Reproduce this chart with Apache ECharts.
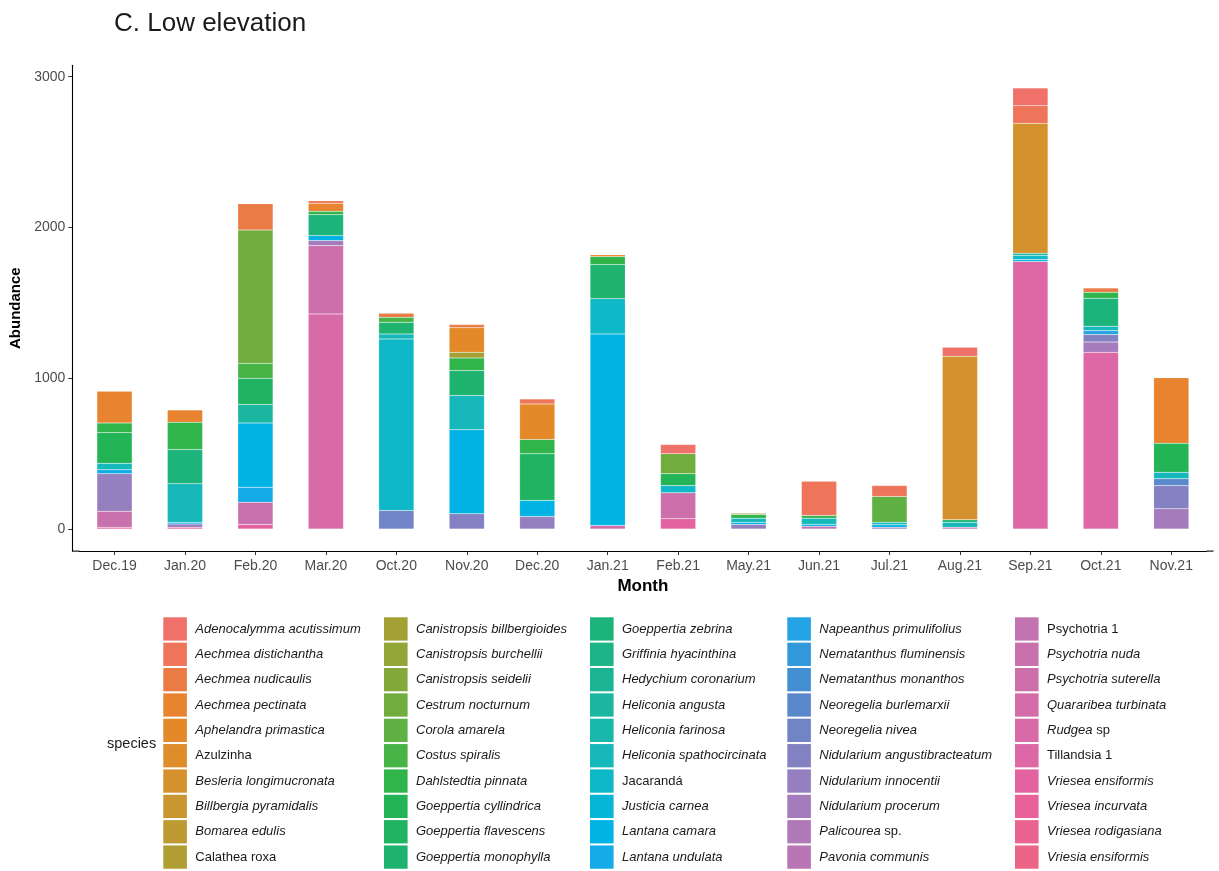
<!DOCTYPE html>
<html>
<head>
<meta charset="utf-8">
<title>C. Low elevation</title>
<script src="https://cdn.jsdelivr.net/npm/echarts@6/dist/echarts.min.js"></script>
<style>
  html, body { margin: 0; padding: 0; background: #fff; }
  #chart { width: 1219px; height: 871px; }
</style>
</head>
<body>
<div id="chart"></div>
<script>
// Months on the x axis
const months = ['Dec.19', 'Jan.20', 'Feb.20', 'Mar.20', 'Oct.20', 'Nov.20', 'Dec.20', 'Jan.21',
  'Feb.21', 'May.21', 'Jun.21', 'Jul.21', 'Aug.21', 'Sep.21', 'Oct.21', 'Nov.21'];

// Species, in legend order (first one stacks on top)
const species = [
  'Adenocalymma acutissimum', 'Aechmea distichantha', 'Aechmea nudicaulis', 'Aechmea pectinata',
  'Aphelandra primastica', 'Azulzinha', 'Besleria longimucronata', 'Billbergia pyramidalis',
  'Bomarea edulis', 'Calathea roxa',
  'Canistropsis billbergioides', 'Canistropsis burchellii', 'Canistropsis seidelii', 'Cestrum nocturnum',
  'Corola amarela', 'Costus spiralis', 'Dahlstedtia pinnata', 'Goeppertia cyllindrica',
  'Goeppertia flavescens', 'Goeppertia monophylla',
  'Goeppertia zebrina', 'Griffinia hyacinthina', 'Hedychium coronarium', 'Heliconia angusta',
  'Heliconia farinosa', 'Heliconia spathocircinata', 'Jacarandá', 'Justicia carnea',
  'Lantana camara', 'Lantana undulata',
  'Napeanthus primulifolius', 'Nematanthus fluminensis', 'Nematanthus monanthos', 'Neoregelia burlemarxii',
  'Neoregelia nivea', 'Nidularium angustibracteatum', 'Nidularium innocentii', 'Nidularium procerum',
  'Palicourea sp.', 'Pavonia communis',
  'Psychotria 1', 'Psychotria nuda', 'Psychotria suterella', 'Quararibea turbinata',
  'Rudgea sp', 'Tillandsia 1', 'Vriesea ensiformis', 'Vriesea incurvata',
  'Vriesea rodigasiana', 'Vriesia ensiformis'
];

// Y axis tick values
const yTicks = [0, 1000, 2000, 3000];

// Abundance per month (same order as months)
const adenocalymmaAcutissimum     = [0, 0, 0, 0, 0, 0, 0, 0, 61, 0, 0, 0, 60, 118, 0, 0];
const aechmeaDistichantha         = [0, 0, 0, 18, 0, 0, 33, 0, 0, 0, 227, 72, 0, 117, 0, 0];
const aechmeaNudicaulis           = [0, 0, 173, 0, 27, 21, 0, 0, 0, 0, 0, 0, 0, 0, 29, 0];
const aechmeaPectinata            = [210, 82, 0, 53, 0, 0, 0, 13, 0, 0, 0, 0, 0, 0, 0, 434];
const aphelandraPrimastica        = [0, 0, 0, 0, 0, 163, 236, 0, 0, 0, 0, 0, 0, 0, 0, 0];
const besleriaLongimucronata      = [0, 0, 0, 0, 0, 0, 0, 0, 0, 0, 0, 0, 1085, 862, 0, 0];
const canistropsisBillbergioides  = [0, 0, 0, 0, 0, 37, 0, 0, 0, 9, 0, 0, 0, 0, 0, 0];
const cestrumNocturnum            = [0, 0, 884, 0, 0, 0, 0, 0, 133, 0, 0, 0, 0, 0, 0, 0];
const corolaAmarela               = [0, 0, 0, 0, 0, 0, 0, 0, 0, 0, 0, 171, 0, 0, 0, 0];
const costusSpiralis              = [0, 0, 100, 0, 33, 0, 0, 0, 0, 0, 0, 0, 0, 0, 0, 0];
const dahlstedtiaPinnata          = [64, 181, 0, 22, 0, 84, 95, 53, 0, 24, 18, 0, 0, 0, 39, 0];
const goeppertiaCyllindrica       = [204, 0, 0, 0, 0, 0, 0, 0, 78, 0, 0, 0, 0, 0, 0, 192];
const goeppertiaFlavescens        = [0, 0, 174, 0, 0, 0, 310, 0, 0, 0, 0, 0, 0, 0, 0, 0];
const goeppertiaMonophylla        = [0, 0, 0, 0, 77, 166, 0, 227, 0, 0, 0, 0, 16, 0, 0, 0];
const goeppertiaZebrina           = [0, 227, 0, 139, 0, 0, 0, 0, 0, 0, 0, 0, 0, 0, 186, 0];
const heliconiaAngusta            = [0, 0, 122, 0, 0, 0, 0, 0, 0, 0, 0, 0, 0, 15, 0, 0];
const heliconiaSpathocircinata    = [43, 255, 0, 0, 33, 227, 0, 0, 0, 27, 40, 17, 33, 0, 29, 44];
const jacaranda                   = [0, 0, 0, 0, 1138, 0, 0, 233, 48, 0, 0, 0, 0, 27, 0, 0];
const lantanaCamara               = [0, 11, 427, 33, 0, 557, 106, 1271, 0, 15, 13, 16, 0, 12, 0, 0];
const lantanaUndulata             = [27, 0, 99, 0, 0, 0, 0, 0, 0, 0, 0, 0, 0, 0, 0, 0];
const napeanthusPrimulifolius     = [0, 0, 0, 0, 0, 0, 0, 0, 0, 0, 0, 0, 0, 0, 26, 0];
const neoregeliaBurlemarxii       = [0, 0, 0, 0, 0, 0, 0, 0, 0, 0, 0, 0, 0, 0, 0, 45];
const neoregeliaNivea             = [0, 0, 0, 0, 123, 0, 0, 0, 0, 0, 0, 0, 0, 0, 0, 0];
const nidulariumAngustibracteatum = [0, 0, 0, 0, 0, 101, 0, 0, 0, 0, 0, 0, 0, 0, 50, 154];
const nidulariumInnocentii        = [248, 22, 0, 0, 0, 0, 83, 0, 0, 30, 0, 12, 0, 0, 0, 0];
const nidulariumProcerum          = [0, 0, 0, 33, 0, 0, 0, 0, 0, 0, 0, 0, 0, 0, 68, 134];
const pavoniaCommunis             = [0, 0, 0, 0, 0, 0, 0, 0, 0, 0, 19, 0, 12, 0, 0, 0];
const psychotriaNuda              = [106, 0, 148, 0, 0, 0, 0, 0, 0, 0, 0, 0, 0, 0, 0, 0];
const psychotriaSuterella         = [0, 0, 0, 453, 0, 0, 0, 0, 172, 0, 0, 0, 0, 0, 0, 0];
const quararibeaTurbinata         = [0, 0, 0, 0, 0, 0, 0, 23, 0, 0, 0, 0, 0, 0, 0, 0];
const rudgeaSp                    = [0, 0, 0, 1427, 0, 0, 0, 0, 0, 0, 0, 0, 0, 0, 0, 0];
const tillandsia1                 = [0, 0, 0, 0, 0, 0, 0, 0, 0, 0, 0, 0, 0, 1775, 1172, 0];
const vrieseaEnsiformis           = [12, 12, 30, 0, 0, 0, 0, 0, 68, 0, 0, 0, 0, 0, 0, 0];

// Lookup table from species name to its monthly values
const valuesBySpecies = new Map([
  ['Adenocalymma acutissimum', adenocalymmaAcutissimum],
  ['Aechmea distichantha', aechmeaDistichantha],
  ['Aechmea nudicaulis', aechmeaNudicaulis],
  ['Aechmea pectinata', aechmeaPectinata],
  ['Aphelandra primastica', aphelandraPrimastica],
  ['Besleria longimucronata', besleriaLongimucronata],
  ['Canistropsis billbergioides', canistropsisBillbergioides],
  ['Cestrum nocturnum', cestrumNocturnum],
  ['Corola amarela', corolaAmarela],
  ['Costus spiralis', costusSpiralis],
  ['Dahlstedtia pinnata', dahlstedtiaPinnata],
  ['Goeppertia cyllindrica', goeppertiaCyllindrica],
  ['Goeppertia flavescens', goeppertiaFlavescens],
  ['Goeppertia monophylla', goeppertiaMonophylla],
  ['Goeppertia zebrina', goeppertiaZebrina],
  ['Heliconia angusta', heliconiaAngusta],
  ['Heliconia spathocircinata', heliconiaSpathocircinata],
  ['Jacarandá', jacaranda],
  ['Lantana camara', lantanaCamara],
  ['Lantana undulata', lantanaUndulata],
  ['Napeanthus primulifolius', napeanthusPrimulifolius],
  ['Neoregelia burlemarxii', neoregeliaBurlemarxii],
  ['Neoregelia nivea', neoregeliaNivea],
  ['Nidularium angustibracteatum', nidulariumAngustibracteatum],
  ['Nidularium innocentii', nidulariumInnocentii],
  ['Nidularium procerum', nidulariumProcerum],
  ['Pavonia communis', pavoniaCommunis],
  ['Psychotria nuda', psychotriaNuda],
  ['Psychotria suterella', psychotriaSuterella],
  ['Quararibea turbinata', quararibeaTurbinata],
  ['Rudgea sp', rudgeaSp],
  ['Tillandsia 1', tillandsia1],
  ['Vriesea ensiformis', vrieseaEnsiformis]
]);

// Hue-wheel palette, one colour per species
const palette = [
  '#F0716A', '#EE7559', '#EA7B45', '#E8832F', '#E4892A', '#DE8D2A', '#D4912D', '#CA9630', '#BE9A32', '#B19E33',
  '#A3A034', '#93A537', '#83A93A', '#71AD3E', '#5EB142', '#48B447', '#30B54B', '#22B455', '#20B462', '#1EB46F',
  '#1DB47C', '#1DB488', '#1CB594', '#1BB6A0', '#19B7AC', '#16B8B9', '#0FB8C7', '#07B6D5', '#00B3E4', '#14ACE8',
  '#24A4E4', '#3199DA', '#438FD2', '#5B88CB', '#7184C6', '#8481C2', '#967FBF', '#A47CBC', '#B079B8', '#BA76B4',
  '#C274B0', '#C871AD', '#CD6FAB', '#D36CA9', '#D96AA8', '#DE67A6', '#E363A1', '#E8619A', '#EB6391', '#EC6586'
];

// Names shown upright in the legend (everything else is italic)
const uprightNames = ['Azulzinha', 'Calathea roxa', 'Jacarandá', 'Psychotria 1', 'Tillandsia 1'];

const FONT = "'Liberation Sans', Arial, sans-serif";
const LEGEND_SIZE = 13;

function legendLabel(name) {
  if (uprightNames.includes(name)) return '{g| }{n|' + name + '}';
  const m = name.match(/^(.*) (sp\.?)$/);
  if (m) return '{g| }{i|' + m[1] + '}{n| ' + m[2] + '}';
  return '{g| }{i|' + name + '}';
}

// Stack: ECharts stacks the first series at the bottom, so add them in reverse
const series = species.slice().reverse().map(function (name) {
  const vals = valuesBySpecies.get(name);
  return {
    name: name,
    type: 'bar',
    stack: 'total',
    barWidth: '50%',
    data: vals ? vals.map(function (v) { return v > 0 ? v : null; }) : [],
    itemStyle: {
      color: palette[species.indexOf(name)],
      borderColor: 'rgba(255,255,255,0.25)',
      borderWidth: 0.5
    },
    emphasis: { disabled: true }
  };
});

const legendLefts = [163.3, 384, 590, 787.3, 1015];
const legends = legendLefts.map(function (left, c) {
  return {
    orient: 'vertical',
    left: left,
    top: 617.3,
    padding: 0,
    itemWidth: 23.6,
    itemHeight: 23.3,
    itemGap: 2.05,
    icon: 'rect',
    selectedMode: false,
    itemStyle: { borderWidth: 0 },
    data: species.slice(c * 10, c * 10 + 10),
    formatter: legendLabel,
    textStyle: {
      color: '#1a1a1a',
      fontSize: LEGEND_SIZE,
      fontFamily: FONT,
      rich: {
        g: { width: 3.4, fontSize: LEGEND_SIZE, fontFamily: FONT },
        i: { fontStyle: 'italic', fontSize: LEGEND_SIZE, color: '#1a1a1a', fontFamily: FONT },
        n: { fontStyle: 'normal', fontSize: LEGEND_SIZE, color: '#1a1a1a', fontFamily: FONT }
      }
    }
  };
});

const chart = echarts.init(document.getElementById('chart'), null, { renderer: 'canvas' });

chart.setOption({
  animation: false,
  backgroundColor: '#ffffff',
  textStyle: { fontFamily: FONT },
  title: [
    {
      text: 'C. Low elevation',
      left: 114,
      top: 11,
      padding: 0,
      textStyle: { fontSize: 26, fontWeight: 'normal', color: '#1a1a1a', fontFamily: FONT }
    },
    {
      text: 'species',
      left: 107,
      top: 736,
      padding: 0,
      textStyle: { fontSize: 14.5, fontWeight: 'normal', color: '#1a1a1a', fontFamily: FONT }
    }
  ],
  legend: legends,
  grid: { left: 79.3, right: 12.5, top: 65.2, bottom: 319.9, containLabel: false },
  xAxis: {
    type: 'category',
    data: months,
    boundaryGap: true,
    name: 'Month',
    nameLocation: 'middle',
    nameGap: 23,
    nameTextStyle: { fontSize: 17, fontWeight: 'bold', color: '#000', fontFamily: FONT },
    axisLine: { show: true, onZero: false, lineStyle: { color: '#000', width: 1.1 } },
    axisTick: { show: true, alignWithLabel: true, length: 4, lineStyle: { color: '#333', width: 1 } },
    axisLabel: { color: '#4D4D4D', fontSize: 14, margin: 8, interval: 0, fontFamily: FONT },
    splitLine: { show: false }
  },
  yAxis: {
    type: 'value',
    min: -146.5,
    max: 3076.5,
    offset: 7,
    name: 'Abundance',
    nameLocation: 'middle',
    nameGap: 38,
    nameRotate: 90,
    nameTextStyle: { fontSize: 15, fontWeight: 'bold', color: '#000', fontFamily: FONT },
    axisLine: { show: true, lineStyle: { color: '#000', width: 1.1 } },
    axisTick: { show: true, length: 4, customValues: yTicks, lineStyle: { color: '#333', width: 1 } },
    axisLabel: {
      color: '#4D4D4D', fontSize: 14, margin: 7, customValues: yTicks, fontFamily: FONT,
      formatter: function (v) { return String(v); }
    },
    splitLine: { show: false }
  },
  graphic: [
    // x axis line runs the full width of the panel, past the outer category bands
    { type: 'line', silent: true, shape: { x1: 72.3, y1: 551.1, x2: 79.3, y2: 551.1 }, style: { stroke: '#000', lineWidth: 1.1 } },
    { type: 'line', silent: true, shape: { x1: 1206.5, y1: 551.1, x2: 1213.5, y2: 551.1 }, style: { stroke: '#000', lineWidth: 1.1 } }
  ],
  series: series
});
</script>
</body>
</html>
